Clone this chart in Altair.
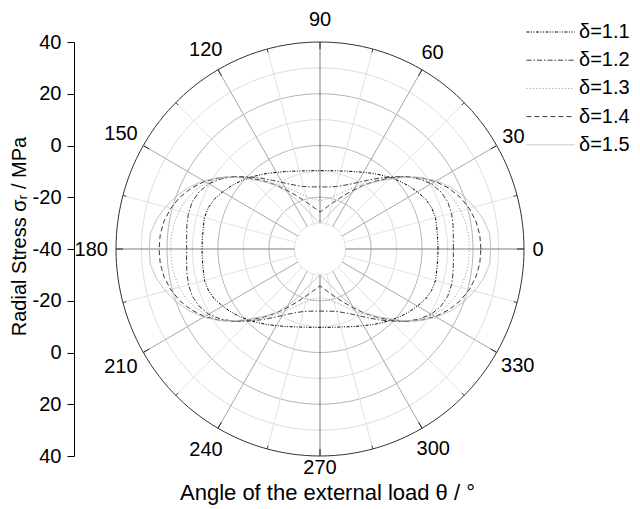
import math
import altair as alt
import pandas as pd

# ---------------- data ----------------
ANGLES = list(range(0, 360, 5))
DELTAS = ["1.1", "1.2", "1.3", "1.4", "1.5"]

S11 = [6.3, 6.3, 6.5, 6.9, 6.6, 5.7, 4.1, 2.5, 0.8, -1.0, -2.7, -4.3, -5.8, -7.0, -8.0, -8.8, -9.3, -9.6, -9.7,
       -9.6, -9.3, -8.8, -8.0, -7.0, -5.8, -4.3, -2.7, -1.0, 0.8, 2.5, 4.1, 5.7, 6.6, 6.9, 6.5, 6.3, 6.3,
       6.3, 6.5, 6.9, 6.6, 5.7, 4.1, 2.5, 0.8, -1.0, -2.7, -4.3, -5.8, -7.0, -8.0, -8.8, -9.3, -9.6, -9.7,
       -9.6, -9.3, -8.8, -8.0, -7.0, -5.8, -4.3, -2.7, -1.0, 0.8, 2.5, 4.1, 5.7, 6.6, 6.9, 6.5, 6.3]
S12 = [12.3, 12.5, 13.0, 13.4, 13.3, 12.3, 10.4, 7.3, 3.5, -0.6, -4.3, -7.6, -10.3, -12.4, -13.9, -15.0, -15.6, -15.9, -16.0,
       -15.9, -15.6, -15.0, -13.9, -12.4, -10.3, -7.6, -4.3, -0.6, 3.5, 7.3, 10.4, 12.3, 13.3, 13.4, 13.0, 12.5, 12.3,
       12.5, 13.0, 13.4, 13.3, 12.3, 10.4, 7.3, 3.5, -0.6, -4.3, -7.6, -10.3, -12.4, -13.9, -15.0, -15.6, -15.9, -16.0,
       -15.9, -15.6, -15.0, -13.9, -12.4, -10.3, -7.6, -4.3, -0.6, 3.5, 7.3, 10.4, 12.3, 13.3, 13.4, 13.0, 12.5]
S13 = [18.6, 18.5, 18.0, 17.2, 15.9, 13.9, 11.2, 7.7, 3.5, -1.0, -5.2, -9.0, -12.3, -15.0, -17.2, -18.9, -20.1, -20.9, -21.3,
       -20.9, -20.1, -18.9, -17.2, -15.0, -12.3, -9.0, -5.2, -1.0, 3.5, 7.7, 11.2, 13.9, 15.9, 17.2, 18.0, 18.5, 18.6,
       18.5, 18.0, 17.2, 15.9, 13.9, 11.2, 7.7, 3.5, -1.0, -5.2, -9.0, -12.3, -15.0, -17.2, -18.9, -20.1, -20.9, -21.3,
       -20.9, -20.1, -18.9, -17.2, -15.0, -12.3, -9.0, -5.2, -1.0, 3.5, 7.7, 11.2, 13.9, 15.9, 17.2, 18.0, 18.5]
S14 = [23.1, 22.9, 22.1, 20.6, 18.5, 15.7, 12.2, 8.1, 3.5, -1.2, -5.7, -9.8, -13.6, -16.9, -19.6, -21.7, -23.4, -24.7, -25.7,
       -24.7, -23.4, -21.7, -19.6, -16.9, -13.6, -9.8, -5.7, -1.2, 3.5, 8.1, 12.2, 15.7, 18.5, 20.6, 22.1, 22.9, 23.1,
       22.9, 22.1, 20.6, 18.5, 15.7, 12.2, 8.1, 3.5, -1.2, -5.7, -9.8, -13.6, -16.9, -19.6, -21.7, -23.4, -24.7, -25.7,
       -24.7, -23.4, -21.7, -19.6, -16.9, -13.6, -9.8, -5.7, -1.2, 3.5, 8.1, 12.2, 15.7, 18.5, 20.6, 22.1, 22.9]
S15 = [26.9, 26.8, 25.2, 22.7, 19.9, 16.6, 12.7, 8.2, 3.2, -1.9, -6.1, -10.0, -14.6, -19.6, -23.5, -26.1, -27.9, -29.1, -30.0,
       -29.1, -27.9, -26.1, -23.5, -19.6, -14.6, -10.0, -6.1, -1.9, 3.2, 8.2, 12.7, 16.6, 19.9, 22.7, 25.2, 26.8, 26.9,
       26.8, 25.2, 22.7, 19.9, 16.6, 12.7, 8.2, 3.2, -1.9, -6.1, -10.0, -14.6, -19.6, -23.5, -26.1, -27.9, -29.1, -30.0,
       -29.1, -27.9, -26.1, -23.5, -19.6, -14.6, -10.0, -6.1, -1.9, 3.2, 8.2, 12.7, 16.6, 19.9, 22.7, 25.2, 26.8]
SERIES = [S11, S12, S13, S14, S15]

ANGLE_TICKS = list(range(0, 360, 30))
ANGLE_LABELS = [str(a) for a in ANGLE_TICKS]
RING_MINOR = [-30, -10, 10, 30]
RING_MAJOR = [-20, 0, 20]
RING_OUTER = [40]
CENTER_VALUE = -40
HOLE_VALUE = -30

# ---------------- styles / layout ----------------
COLORS = ["#000000", "#3c3c3c", "#a0a0a0", "#3c3c3c", "#bdbdbd"]
DASHES = [[3, 1.5, 1, 1.5, 1, 1.5], [5, 2, 1.5, 2], [1.2, 2], [5, 3], [1, 0]]
WIDTHS = [1.0, 1.0, 1.1, 1.0, 2.7]
LABEL_GAP = [8.5, 6.5, 13, 16.3, 16.4, 11.8, 7.9, 11.9, 15.9, 4.2, 14.4, 10.4]
FONT = "Liberation Sans"
W, H = 408, 414
PXX, PXY = W / 160.0, H / 160.0

XS = alt.Scale(domain=[-80, 80], nice=False, zero=False)
YS = alt.Scale(domain=[-80, 80], nice=False, zero=False)

for s in SERIES:
    assert len(s) == len(ANGLES)

rows = []
for d, vals in zip(DELTAS, SERIES):
    for a, v in zip(ANGLES, vals):
        rows.append({"delta": d, "angle": a, "stress": v})
df = pd.DataFrame(rows)


def ring_df(values):
    return pd.DataFrame([{"ring": v, "angle": a} for v in values for a in range(0, 361, 2)])


def ring_layer(values, color, width=1.0):
    return alt.Chart(ring_df(values)).transform_calculate(
        rr=f"datum.ring - ({CENTER_VALUE})",
        px="datum.rr * cos(datum.angle * PI / 180)",
        py="datum.rr * sin(datum.angle * PI / 180)",
    ).mark_line(color=color, strokeWidth=width).encode(
        x=alt.X("px:Q", scale=XS),
        y=alt.Y("py:Q", scale=YS),
        detail="ring:N",
        order="angle:Q",
    )


def spoke_layer(angles, r0, r1, color, width=1.0):
    sdf = pd.DataFrame({"angle": angles})
    return alt.Chart(sdf).transform_calculate(
        x0=f"{r0} * cos(datum.angle * PI / 180)",
        y0=f"{r0} * sin(datum.angle * PI / 180)",
        x1=f"{r1} * cos(datum.angle * PI / 180)",
        y1=f"{r1} * sin(datum.angle * PI / 180)",
    ).mark_rule(color=color, strokeWidth=width).encode(
        x=alt.X("x0:Q", scale=XS),
        y=alt.Y("y0:Q", scale=YS),
        x2="x1:Q",
        y2="y1:Q",
    )


R_HOLE = HOLE_VALUE - CENTER_VALUE
R_OUT = 40 - CENTER_VALUE
axis_angles = [0, 90, 180, 270]
major_angles = [a for a in ANGLE_TICKS if a not in axis_angles]
minor_angles = list(range(15, 360, 30))

y_axis = alt.Axis(
    values=list(range(-80, 81, 10)),
    labelExpr="datum.value % 20 == 0 ? '' + (abs(datum.value) - 40) : ''",
    tickSize={"condition": {"test": "datum.value % 20 == 0", "value": 7}, "value": 4},
    offset=42, grid=False, domain=True, ticks=True, labels=True,
    domainColor="#000", tickColor="#000", labelColor="#000",
    labelFont=FONT, labelFontSize=20, labelPadding=6,
    title="Radial Stress σᵣ / MPa", titleFont=FONT, titleFontSize=20,
    titleFontWeight="normal", titleColor="#000", titlePadding=3, titleY=194,
)
x_axis = alt.Axis(
    domain=False, ticks=False, labels=False, grid=False,
    title="Angle of the external load θ / °", titleFont=FONT, titleFontSize=22,
    titleFontWeight="normal", titleColor="#000", titlePadding=26,
    titleX=211, titleAlign="center",
)
legend = alt.Legend(
    orient="none", legendX=424, legendY=-20.5, title=None, padding=0,
    symbolType="M-2.4,0L2.4,0", symbolSize=400, labelFont=FONT, labelFontSize=20,
    labelColor="#000", labelOffset=18, rowPadding=7.2,
    labelExpr="'δ=' + datum.label",
)

# invisible copy of the data that carries the axes
first = alt.Chart(df).transform_calculate(
    rr=f"datum.stress - ({CENTER_VALUE})",
    px="datum.rr * cos(datum.angle * PI / 180)",
    py="datum.rr * sin(datum.angle * PI / 180)",
).mark_line(opacity=0).encode(
    x=alt.X("px:Q", scale=XS, axis=x_axis),
    y=alt.Y("py:Q", scale=YS, axis=y_axis),
)

grid = [
    ring_layer(RING_MINOR, "#dddddd"),
    ring_layer(RING_MAJOR, "#b4b4b4"),
    spoke_layer(minor_angles, R_HOLE, R_OUT, "#e2e2e2"),
    spoke_layer(major_angles, R_HOLE, R_OUT, "#a8a8a8"),
    spoke_layer(axis_angles, R_HOLE, R_OUT, "#7a7a7a"),
    spoke_layer(ANGLE_TICKS, R_OUT - 7 / PXX, R_OUT, "#222222"),
    spoke_layer(minor_angles, R_OUT - 3.5 / PXX, R_OUT, "#444444"),
    ring_layer(RING_OUTER, "#333333"),
]

data_layer = alt.Chart(df).transform_calculate(
    rr=f"datum.stress - ({CENTER_VALUE})",
    px="datum.rr * cos(datum.angle * PI / 180)",
    py="datum.rr * sin(datum.angle * PI / 180)",
).mark_line(interpolate="linear-closed").encode(
    x=alt.X("px:Q", scale=XS),
    y=alt.Y("py:Q", scale=YS),
    order=alt.Order("angle:Q"),
    color=alt.Color("delta:N", scale=alt.Scale(domain=DELTAS, range=COLORS), legend=legend),
    strokeDash=alt.StrokeDash("delta:N", scale=alt.Scale(domain=DELTAS, range=DASHES), legend=legend),
    strokeWidth=alt.StrokeWidth("delta:N", scale=alt.Scale(domain=DELTAS, range=WIDTHS), legend=legend),
)

# angle labels
lab = []
for a, t, g in zip(ANGLE_TICKS, ANGLE_LABELS, LABEL_GAP):
    c, s = math.cos(math.radians(a)), math.sin(math.radians(a))
    hw, hh = 5.6 * len(t), 7.0
    cand = []
    if abs(c) > 1e-6:
        cand.append(hw / abs(c))
    if abs(s) > 1e-6:
        cand.append(hh / abs(s))
    dd = g + min(cand)
    lab.append({"label": t,
                "lx": (W / 2 * c + dd * c) / PXX,
                "ly": (H / 2 * s + dd * s - 1.2) / PXY})
labels = alt.Chart(pd.DataFrame(lab)).mark_text(
    font=FONT, fontSize=20, color="#000", align="center", baseline="middle"
).encode(
    x=alt.X("lx:Q", scale=XS),
    y=alt.Y("ly:Q", scale=YS),
    text="label:N",
)

chart = alt.layer(first, *grid, data_layer, labels).properties(
    width=W, height=H,
    autosize=alt.AutoSizeParams(type="none"),
    padding={"left": 108, "top": 34, "right": 108, "bottom": 51},
).configure_view(stroke=None)

chart.save("out.html", embed_options={"renderer": "svg", "actions": False})
